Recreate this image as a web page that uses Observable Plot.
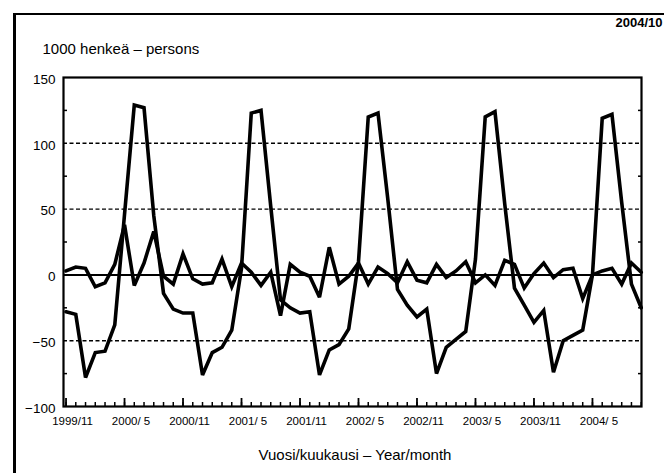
<!DOCTYPE html>
<html><head><meta charset="utf-8">
<script src="https://cdn.jsdelivr.net/npm/d3@7"></script>
<script src="https://cdn.jsdelivr.net/npm/@observablehq/plot@0.6"></script>
<style>
html,body{margin:0;padding:0;background:#fff;}
#wrap{position:relative;width:664px;height:473px;overflow:hidden;}
#box{position:absolute;left:13px;top:13px;width:700px;height:500px;border-left:3px solid #000;border-top:2px solid #000;}
#wrap svg{position:absolute;left:0;top:0;}
</style>
</head><body><div id="wrap"><div id="box"></div></div>
<script>
// months 1999/11 .. 2004/10 (index 0..59)
const seriesA = [-28,-30,-78,-59,-58,-38,46,129,127,45,-14,-26,
  -29,-29,-76,-59,-55,-42,5,123,125,52,-19,-25,
  -29,-28,-76,-57,-53,-41,10,120,123,58,-11,-23,
  -32,-26,-75,-55,-49,-43,12,120,124,54,-10,-23,
  -36,-27,-74,-50,-46,-42,0,119,122,55,-7,-25];
const seriesB = [3,6,5,-9,-6,8,38,-8,9,33,-1,-7,
  16,-3,-7,-6,12,-9,9,2,-8,2,-31,8,
  2,-1,-17,21,-7,-1,9,-7,6,1,-6,10,
  -4,-6,8,-2,3,10,-6,0,-8,11,8,-10,
  1,9,-2,4,5,-18,0,3,5,-7,9,2];
const tickLabels = ["1999/11","2000/ 5","2000/11","2001/ 5","2001/11","2002/ 5","2002/11","2003/ 5","2003/11","2004/ 5"];
const yTickValues = [-100,-50,0,50,100,150];
const yGrid = [-50,50,100];
const yMinor = [-75,-25,25,75,125];
const unitLabel = "1000 henkeä – persons";
const dateLabel = "2004/10";
const xTitle = "Vuosi/kuukausi – Year/month";

const rows = seriesA.map((a, i) => ({i, a, b: seriesB[i]}));
const monthIdx = rows.map(r => r.i);
const majorIdx = tickLabels.map((_, k) => k * 6);
const font = '"Liberation Sans",Arial,sans-serif';

const chart = Plot.plot({
  width: 664, height: 473,
  marginLeft: 63, marginRight: 23, marginTop: 77, marginBottom: 67,
  x: {domain: [-0.26, 59.03], axis: null},
  y: {domain: [-100, 150], axis: null},
  style: {fontFamily: font, background: "transparent", color: "#000"},
  marks: [
    Plot.ruleY(yGrid, {stroke: "#000", strokeWidth: 1.4, strokeDasharray: "4,2.5"}),
    Plot.ruleY([0], {stroke: "#000", strokeWidth: 2}),
    Plot.axisX(monthIdx, {anchor: "bottom", tickSize: -4, tickFormat: () => "", strokeWidth: 1.5, label: null}),
    Plot.axisX(majorIdx, {anchor: "bottom", tickSize: -8, tickFormat: () => "", strokeWidth: 1.8, label: null}),
    Plot.axisX(majorIdx, {anchor: "bottom", tickSize: 0, tickPadding: 10, dx: 6.5, fontSize: 11.5,
      tickFormat: d => tickLabels[majorIdx.indexOf(d)], label: null}),
    Plot.axisY(yMinor, {anchor: "left", tickSize: -4, tickFormat: () => "", strokeWidth: 1.5, label: null}),
    Plot.axisY(yMinor, {anchor: "right", tickSize: -4, tickFormat: () => "", strokeWidth: 1.5, label: null}),
    Plot.axisY(yTickValues, {anchor: "left", tickSize: 0, tickPadding: 8, dy: 2, fontSize: 13.5, label: null}),
    Plot.frame({stroke: "#000", strokeWidth: 2.2}),
    Plot.line(rows, {x: "i", y: "b", stroke: "#000", strokeWidth: 3.6, strokeLinejoin: "miter", strokeMiterlimit: 3}),
    Plot.line(rows, {x: "i", y: "a", stroke: "#000", strokeWidth: 3.6, strokeLinejoin: "miter", strokeMiterlimit: 3}),
    Plot.text([unitLabel], {frameAnchor: "top-left", dx: -21, dy: -28, textAnchor: "start", lineAnchor: "middle", fontSize: 15, fill: "#000"}),
    Plot.text([dateLabel], {frameAnchor: "top-right", dx: -26, dy: -55, textAnchor: "start", lineAnchor: "middle", fontSize: 13, fontWeight: "bold", fill: "#000"}),
    Plot.text([xTitle], {frameAnchor: "bottom", dx: 2.5, dy: 49, textAnchor: "middle", lineAnchor: "middle", fontSize: 15, fill: "#000"})
  ]
});
document.getElementById("wrap").appendChild(chart);
</script>
</body></html>
